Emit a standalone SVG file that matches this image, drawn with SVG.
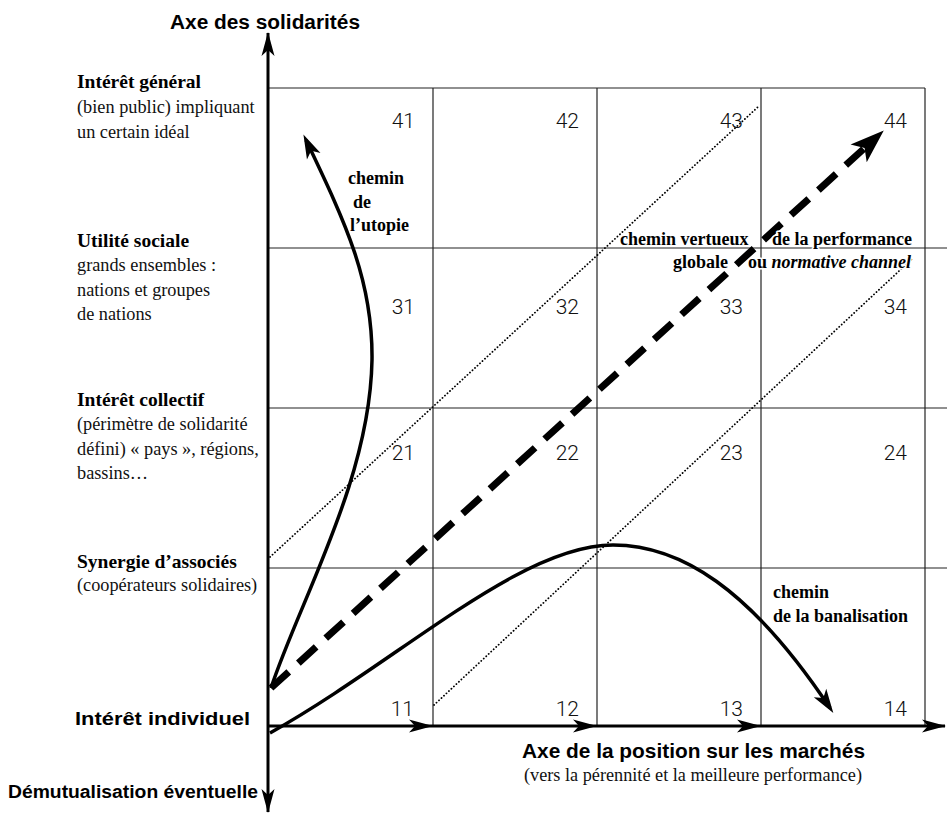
<svg xmlns="http://www.w3.org/2000/svg" width="947" height="814" viewBox="0 0 947 814">
<style>
.grid{stroke:#222;stroke-width:1.2;fill:none}
.axis{stroke:#000;stroke-width:3;fill:none}
.dot{stroke:#000;stroke-width:1.8;fill:none;stroke-dasharray:0.1 3.3;stroke-linecap:round}
.curve{stroke:#000;stroke-width:3.5;fill:none}
.dash{stroke:#000;stroke-width:7;fill:none;stroke-dasharray:24 13}
.num{font-family:Roboto,"Liberation Sans",sans-serif;font-weight:300;font-size:21px;fill:#111;text-anchor:end}
.sb{font-family:"Liberation Sans",Arial,sans-serif;font-weight:bold;fill:#000}
.lb{font-family:"Liberation Serif","Times New Roman",serif;font-weight:bold;font-size:19.5px;fill:#000}
.lr{font-family:"Liberation Serif","Times New Roman",serif;font-size:18.3px;fill:#111}
.pb{font-family:"Liberation Serif","Times New Roman",serif;font-weight:bold;font-size:18px;fill:#000}
.halo{stroke:#fff;stroke-width:3;paint-order:stroke;stroke-linejoin:round}
</style>
<defs>
<marker id="ax" viewBox="-25 -8 27 16" refX="0" refY="0" markerWidth="27" markerHeight="16" markerUnits="userSpaceOnUse" orient="auto">
<path d="M1,0 L-23,-6.5 L-17,0 L-23,6.5 Z" fill="#000"/>
</marker>
<marker id="hd" viewBox="-20 -9 28 18" refX="0" refY="0" markerWidth="28" markerHeight="18" markerUnits="userSpaceOnUse" orient="auto">
<path d="M6,0 L-18,-7.5 L-12,0 L-18,7.5 Z" fill="#000"/>
</marker>
<marker id="big" viewBox="-16 -13 38 26" refX="0" refY="0" markerWidth="38" markerHeight="26" markerUnits="userSpaceOnUse" orient="auto">
<path d="M20,0 L-14,-12 L-6,0 L-14,12 Z" fill="#000"/>
</marker>
</defs>

<g id="grid">
<line class="grid" x1="269" y1="88" x2="925" y2="88"/>
<line class="grid" x1="269" y1="248" x2="947" y2="248"/>
<line class="grid" x1="269" y1="408" x2="947" y2="408"/>
<line class="grid" x1="269" y1="568" x2="947" y2="568"/>
<line class="grid" x1="433" y1="88" x2="433" y2="726"/>
<line class="grid" x1="597" y1="88" x2="597" y2="726"/>
<line class="grid" x1="761" y1="88" x2="761" y2="726"/>
<line class="grid" x1="925" y1="88" x2="925" y2="726"/>
</g>

<g id="numbers">
<text class="num" x="415" y="128">41</text>
<text class="num" x="579" y="128">42</text>
<text class="num" x="743" y="128">43</text>
<text class="num" x="907" y="128">44</text>
<text class="num" x="415" y="314">31</text>
<text class="num" x="579" y="314">32</text>
<text class="num" x="743" y="314">33</text>
<text class="num" x="907" y="314">34</text>
<text class="num" x="415" y="460">21</text>
<text class="num" x="579" y="460">22</text>
<text class="num" x="743" y="460">23</text>
<text class="num" x="907" y="460">24</text>
<text class="num" x="414" y="716">11</text>
<text class="num" x="579" y="716">12</text>
<text class="num" x="743" y="716">13</text>
<text class="num" x="907" y="716">14</text>
</g>

<g id="connectors">
<line class="dot" x1="270" y1="557" x2="759" y2="106"/>
<line class="dot" x1="434" y1="705" x2="913" y2="258"/>
<path class="curve" d="M271,688 C300,600 370,480 372,360 C373,280 345,222 306,140" marker-end="url(#hd)"/>
<path class="curve" d="M270,733 C400,660 520,545 613,545 C680,545 750,588 830,708" marker-end="url(#hd)"/>
<path class="dash" d="M271,688 L869,144" marker-end="url(#big)"/>
<line class="axis" x1="268" y1="726" x2="268" y2="33" marker-end="url(#ax)"/>
<line class="axis" x1="268" y1="726" x2="268" y2="812" marker-end="url(#ax)"/>
<line class="axis" x1="268" y1="726" x2="432" y2="726" marker-end="url(#ax)"/>
<line class="axis" x1="432" y1="726" x2="596" y2="726" marker-end="url(#ax)"/>
<line class="axis" x1="596" y1="726" x2="760" y2="726" marker-end="url(#ax)"/>
<line class="axis" x1="760" y1="726" x2="945" y2="726" marker-end="url(#ax)"/>
</g>

<g id="axis-labels">
<text class="sb" x="170" y="29" font-size="20" textLength="190" lengthAdjust="spacingAndGlyphs">Axe des solidarités</text>
<text class="sb" x="75" y="725" font-size="18" textLength="175" lengthAdjust="spacingAndGlyphs">Intérêt individuel</text>
<text class="sb" x="8" y="798" font-size="18" textLength="250" lengthAdjust="spacingAndGlyphs">Démutualisation éventuelle</text>
<text class="sb" x="522" y="758" font-size="21" textLength="343" lengthAdjust="spacingAndGlyphs">Axe de la position sur les marchés</text>
<text class="lr" x="524" y="781" font-size="16.5" textLength="338" lengthAdjust="spacingAndGlyphs">(vers la pérennité et la meilleure performance)</text>
</g>

<g id="level-4">
<text class="lb" x="77" y="88">Intérêt général</text>
<text class="lr" x="77" y="113">(bien public) impliquant</text>
<text class="lr" x="77" y="138">un certain idéal</text>
</g>
<g id="level-3">
<text class="lb" x="77" y="247">Utilité sociale</text>
<text class="lr" x="77" y="271">grands ensembles :</text>
<text class="lr" x="77" y="296">nations et groupes</text>
<text class="lr" x="77" y="320">de nations</text>
</g>
<g id="level-2">
<text class="lb" x="77" y="406">Intérêt collectif</text>
<text class="lr" x="77" y="430">(périmètre de solidarité</text>
<text class="lr" x="77" y="455">défini) « pays », régions,</text>
<text class="lr" x="77" y="479">bassins…</text>
</g>
<g id="level-1">
<text class="lb" x="77" y="568">Synergie d’associés</text>
<text class="lr" x="77" y="591">(coopérateurs solidaires)</text>
</g>

<g id="label-utopie">
<text class="pb" x="348" y="184">chemin</text>
<text class="pb" x="353" y="208">de</text>
<text class="pb" x="350" y="231">l’utopie</text>
</g>
<g id="label-vertueux">
<text class="pb halo" x="620" y="245">chemin vertueux</text>
<text class="pb halo" x="772" y="245">de la performance</text>
<text class="pb halo" x="673" y="268">globale</text>
<text class="pb halo" x="748" y="268">ou <tspan font-style="italic">normative channel</tspan></text>
</g>
<g id="label-banalisation">
<text class="pb" x="773" y="598">chemin</text>
<text class="pb" x="773" y="622">de la banalisation</text>
</g>
</svg>
